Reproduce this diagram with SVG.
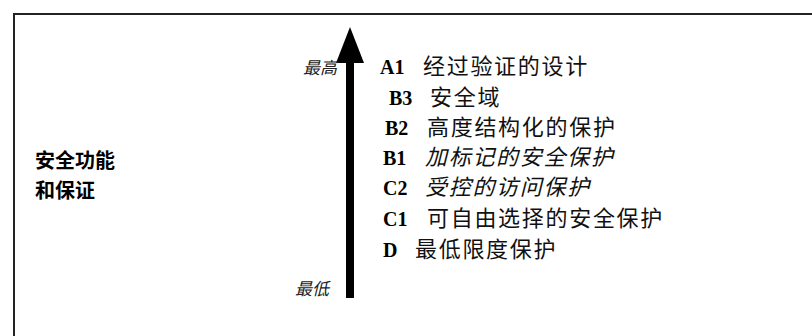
<svg xmlns="http://www.w3.org/2000/svg" width="812" height="336" viewBox="0 0 812 336">
<style>
.lv{font-family:"Liberation Serif","Noto Sans CJK SC",serif;font-size:20px;fill:#000}
.code{font-weight:bold}
.cn{font-family:"Noto Sans CJK SC",sans-serif;font-weight:400;font-size:22px;letter-spacing:1.7px;fill:#111}
.it{font-style:italic}
.end{font-family:"Liberation Serif","Noto Sans CJK SC",serif;font-size:17px;font-style:italic;fill:#222}
.title{font-family:"Noto Sans CJK SC",sans-serif;font-weight:bold;font-size:20px;fill:#000}
</style>
<rect x="14" y="14" width="820" height="340" fill="#fff" stroke="#222" stroke-width="2"/>
<g id="title">
<text class="title" x="35" y="168">安全功能</text>
<text class="title" x="35" y="198">和保证</text>
</g>
<g id="connectors">
<rect x="346" y="60" width="8" height="238" fill="#000"/>
<polygon points="350,27 336,63 364,63" fill="#000"/>
</g>
<g id="ends">
<text class="end" x="303" y="74">最高</text>
<text class="end" x="295" y="295">最低</text>
</g>
<g id="A1"><text class="lv" x="380" y="74"><tspan class="code">A1</tspan></text><text class="lv cn" x="423" y="74">经过验证的设计</text></g>
<g id="B3"><text class="lv" x="389" y="105"><tspan class="code">B3</tspan></text><text class="lv cn" x="430" y="105">安全域</text></g>
<g id="B2"><text class="lv" x="385" y="135"><tspan class="code">B2</tspan></text><text class="lv cn" x="427" y="135">高度结构化的保护</text></g>
<g id="B1"><text class="lv" x="383" y="165"><tspan class="code">B1</tspan></text><text class="lv cn it" x="425" y="165">加标记的安全保护</text></g>
<g id="C2"><text class="lv" x="383" y="195"><tspan class="code">C2</tspan></text><text class="lv cn it" x="425" y="195">受控的访问保护</text></g>
<g id="C1"><text class="lv" x="383" y="226"><tspan class="code">C1</tspan></text><text class="lv cn" x="427" y="226">可自由选择的安全保护</text></g>
<g id="D"><text class="lv" x="383" y="257"><tspan class="code">D</tspan></text><text class="lv cn" x="415" y="257">最低限度保护</text></g>
</svg>
